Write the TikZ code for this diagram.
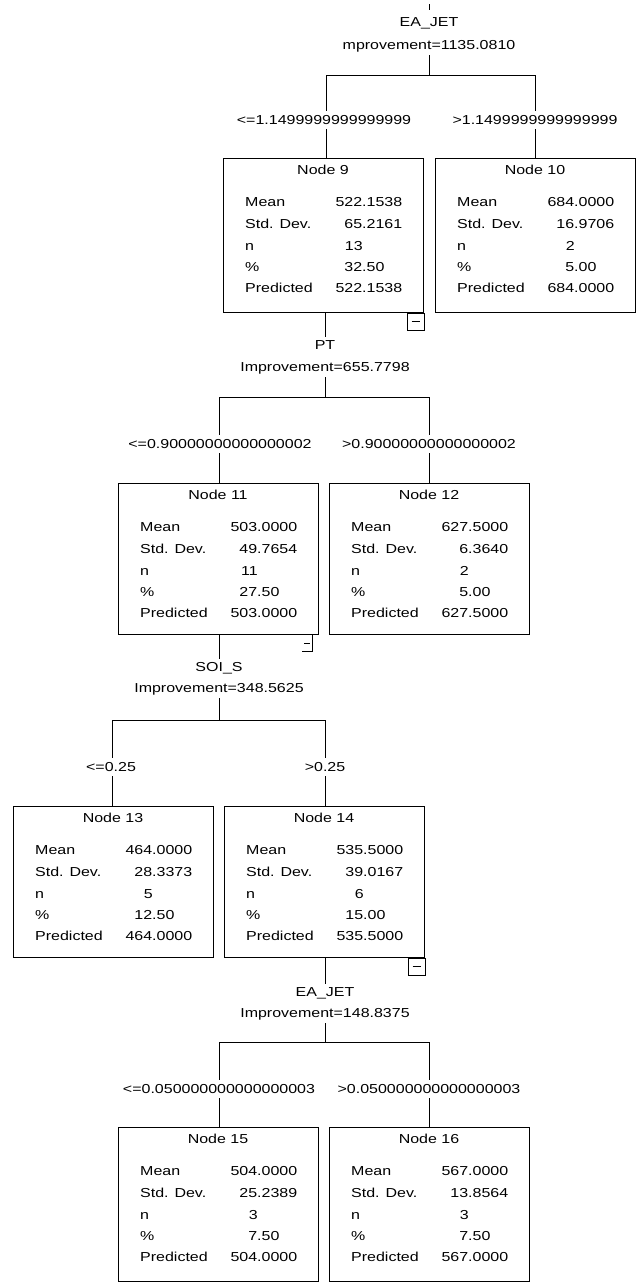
\documentclass[tikz,border=0pt]{standalone}
\usepackage{fontspec}
\setmainfont[FakeStretch=1.23]{Liberation Sans}
\usetikzlibrary{calc}
\newcommand\dv[2]{\makebox[0pt][r]{#1}#2}
\def\bh{152}
\tikzset{
  box/.style={draw, line width=1pt, minimum width=200pt, inner sep=0pt, anchor=north west},
  txt/.style={inner sep=0pt, font=\fontsize{13}{15}\selectfont},
  cond/.style={txt, fill=white, inner xsep=2pt, inner ysep=4pt, anchor=base},
  var/.style={txt, inner ysep=3pt, anchor=base},
  conn/.style={line width=1pt},
}
\newcommand\statbox[9]{%
  \node[box, minimum height=\bh pt] (#1) at (#2,#3) {};
  \begin{scope}[shift={(#2,#3)}]
    \node[txt,anchor=base] at (100,16.5) {#4};
    \node[txt,anchor=base west] at (22,48.5) {Mean};
    \node[txt,anchor=base west] at (22,70.5) {Std. Dev.};
    \node[txt,anchor=base west] at (22,92) {n};
    \node[txt,anchor=base west] at (22,113.5) {\%};
    \node[txt,anchor=base west] at (22,134.5) {Predicted};
    \node[txt,anchor=base west] at (139,48.5) {\dv#5};
    \node[txt,anchor=base west] at (139,70.5) {\dv#6};
    \node[txt,anchor=base west] at (139,92) {\dv#7};
    \node[txt,anchor=base west] at (139,113.5) {\dv#8};
    \node[txt,anchor=base west] at (139,134.5) {\dv#9};
  \end{scope}}
\newcommand\minusbox[1]{%
  \draw[conn] (#1.south east) rectangle ($(#1.south east)+(-17,17)$);
  \draw[conn] ($(#1.south east)+(-12.5,8.5)$) -- ($(#1.south east)+(-4.5,8.5)$);}
\begin{document}
\begin{tikzpicture}[x=1pt,y=-1pt]
\useasboundingbox (0,0) rectangle (637,1283);

% ---------- level 1 ----------
\coordinate (t0) at (429,4);
\coordinate (t1) at (429,10);
\draw[conn] (t0) -- (t1);
\node[var] (v1) at (429,26.5) {EA\_JET};
\node[var] (i1) at (429,49.5) {mprovement=1135.0810};
\coordinate (b1) at (429,75);
\coordinate (b1l) at (326,75);
\coordinate (b1r) at (535,75);

\def\bh{154}
\statbox{n9}{223}{158}{Node 9}{{522}{.1538}}{{65}{.2161}}{{13}{}}{{32}{.50}}{{522}{.1538}}
\statbox{n10}{435}{158}{Node 10}{{684}{.0000}}{{16}{.9706}}{{2}{}}{{5}{.00}}{{684}{.0000}}

\draw[conn] (i1.south) -- (b1);
\draw[conn] (b1l) -- (b1r);
\draw[conn] (b1l) -- (b1l |- n9.north);
\draw[conn] (b1r) -- (b1r |- n10.north);
\node[cond] (c9) at (324,124.5) {<=1.1499999999999999};
\node[cond] (c10) at (535,124.5) {>1.1499999999999999};
\minusbox{n9}

% ---------- level 2 ----------
\node[var] (v2) at (325,349.5) {PT};
\node[var] (i2) at (325,371.5) {Improvement=655.7798};
\coordinate (b2) at (325,397);
\coordinate (b2l) at (219,397);
\coordinate (b2r) at (429,397);
\draw[conn] (n9.south -| v2) -- (v2.north);
\draw[conn] (i2.south) -- (b2);

\def\bh{151}
\statbox{n11}{118}{483}{Node 11}{{503}{.0000}}{{49}{.7654}}{{11}{}}{{27}{.50}}{{503}{.0000}}
\statbox{n12}{329}{483}{Node 12}{{627}{.5000}}{{6}{.3640}}{{2}{}}{{5}{.00}}{{627}{.5000}}

\draw[conn] (b2l) -- (b2r);
\draw[conn] (b2l) -- (b2l |- n11.north);
\draw[conn] (b2r) -- (b2r |- n12.north);
\node[cond] (c11) at (220,448.5) {<=0.90000000000000002};
\node[cond] (c12) at (429,448.5) {>0.90000000000000002};
% partial collapse marker of node 11
\coordinate (m11a) at (312,634);
\coordinate (m11b) at (312,651);
\coordinate (m11c) at (302,651);
\coordinate (m11d) at (304,643);
\coordinate (m11e) at (310,643);
\draw[conn] (m11a) -- (m11b) -- (m11c);
\draw[conn] (m11d) -- (m11e);

% ---------- level 3 ----------
\node[var] (v3) at (219,671.5) {SOI\_S};
\node[var] (i3) at (219,692.5) {Improvement=348.5625};
\coordinate (b3) at (219,720);
\coordinate (b3l) at (112,720);
\coordinate (b3r) at (325,720);
\draw[conn] (n11.south -| v3) -- (v3.north);
\draw[conn] (i3.south) -- (b3);

\statbox{n13}{13}{806}{Node 13}{{464}{.0000}}{{28}{.3373}}{{5}{}}{{12}{.50}}{{464}{.0000}}
\statbox{n14}{224}{806}{Node 14}{{535}{.5000}}{{39}{.0167}}{{6}{}}{{15}{.00}}{{535}{.5000}}

\draw[conn] (b3l) -- (b3r);
\draw[conn] (b3l) -- (b3l |- n13.north);
\draw[conn] (b3r) -- (b3r |- n14.north);
\node[cond] (c13) at (111,771.5) {<=0.25};
\node[cond] (c14) at (325,771.5) {>0.25};
\minusbox{n14}

% ---------- level 4 ----------
\node[var] (v4) at (325,996.5) {EA\_JET};
\node[var] (i4) at (325,1017.5) {Improvement=148.8375};
\coordinate (b4) at (325,1042);
\coordinate (b4l) at (219,1042);
\coordinate (b4r) at (429,1042);
\draw[conn] (n14.south -| v4) -- (v4.north);
\draw[conn] (i4.south) -- (b4);

\def\bh{154}
\statbox{n15}{118}{1127}{Node 15}{{504}{.0000}}{{25}{.2389}}{{3}{}}{{7}{.50}}{{504}{.0000}}
\statbox{n16}{329}{1127}{Node 16}{{567}{.0000}}{{13}{.8564}}{{3}{}}{{7}{.50}}{{567}{.0000}}

\draw[conn] (b4l) -- (b4r);
\draw[conn] (b4l) -- (b4l |- n15.north);
\draw[conn] (b4r) -- (b4r |- n16.north);
\node[cond] (c15) at (219,1093.5) {<=0.050000000000000003};
\node[cond] (c16) at (429,1093.5) {>0.050000000000000003};
\end{tikzpicture}
\end{document}
